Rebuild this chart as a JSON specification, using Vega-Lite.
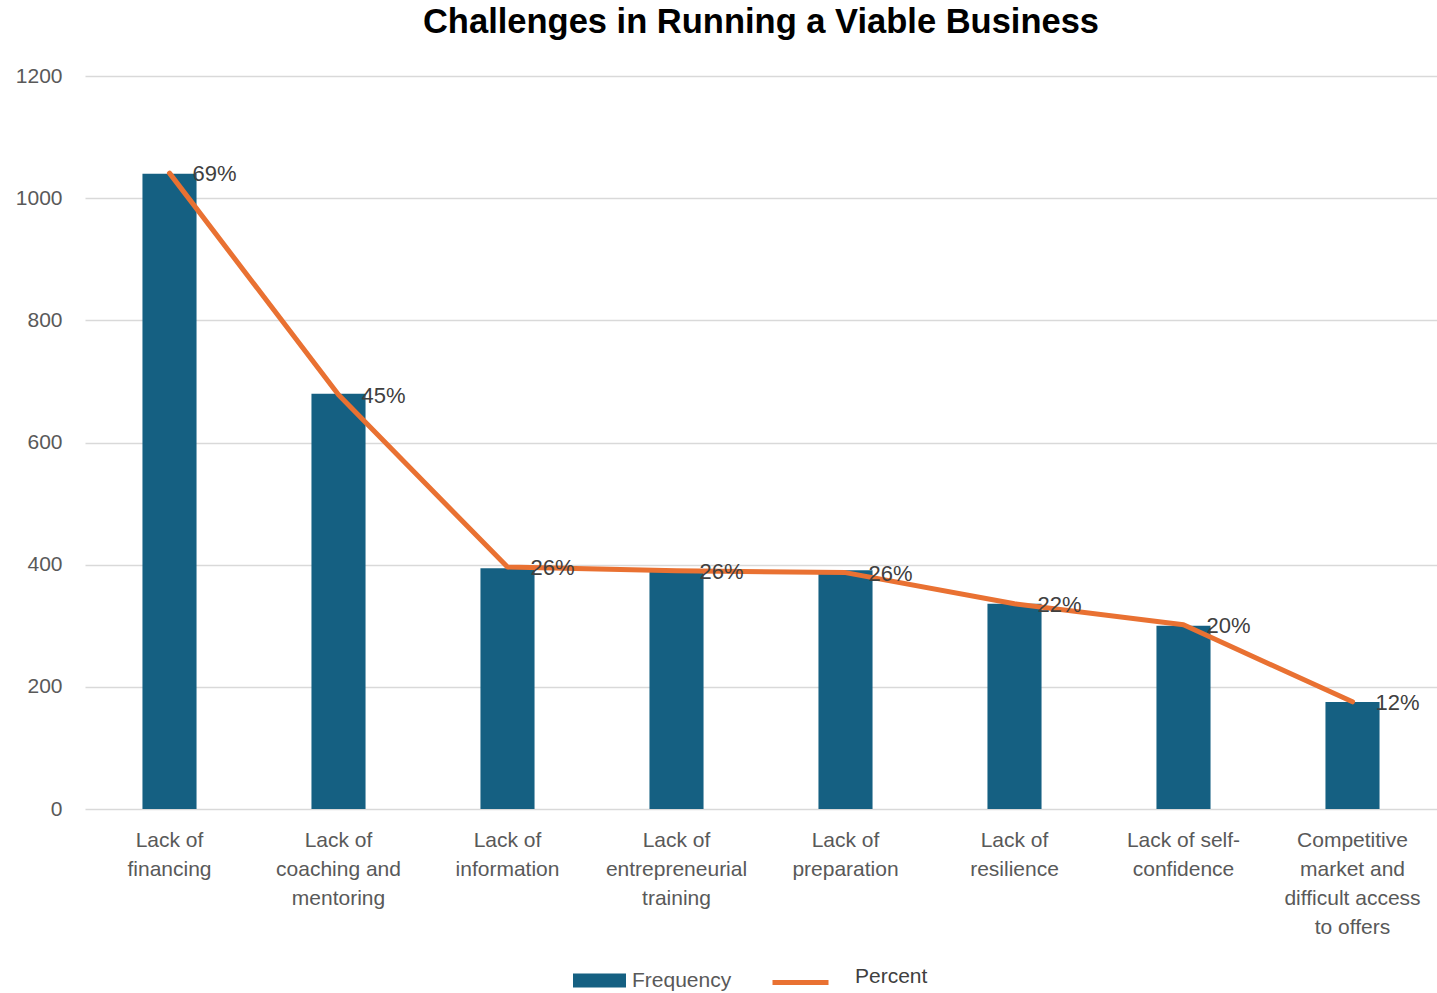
{
  "$schema": "https://vega.github.io/schema/vega-lite/v6.json",
  "width": 1352,
  "height": 733,
  "autosize": {"type": "none"},
  "padding": {"left": 85, "top": 76, "right": 0, "bottom": 184},
  "background": "white",
  "config": {
    "view": {"stroke": null},
    "font": "Liberation Sans"
  },
  "title": {
    "text": "Challenges in Running a Viable Business",
    "font": "Liberation Sans",
    "fontSize": 34.5,
    "fontWeight": "bold",
    "color": "#000000",
    "anchor": "middle",
    "baseline": "bottom",
    "offset": 28,
    "dy": 37
  },
  "data": {
    "values": [
      {"category": "Lack of financing", "frequency": 1040, "percent": 0.694},
      {"category": "Lack of coaching and mentoring", "frequency": 680, "percent": 0.452},
      {"category": "Lack of information", "frequency": 394, "percent": 0.264},
      {"category": "Lack of entrepreneurial training", "frequency": 388, "percent": 0.26},
      {"category": "Lack of preparation", "frequency": 391, "percent": 0.258},
      {"category": "Lack of resilience", "frequency": 336, "percent": 0.224},
      {"category": "Lack of self-confidence", "frequency": 300, "percent": 0.201},
      {"category": "Competitive market and difficult access to offers", "frequency": 175, "percent": 0.117}
    ]
  },
  "encoding": {
    "x": {
      "field": "category",
      "type": "nominal",
      "sort": null,
      "title": null,
      "scale": {"paddingInner": 0, "paddingOuter": 0},
      "axis": {
        "domain": false,
        "ticks": false,
        "grid": false,
        "labelAngle": 0,
        "labelFontSize": 21,
        "labelColor": "#595959",
        "labelLineHeight": 29,
        "labelPadding": 20,
        "labelBaseline": "top",
        "labelLimit": 300,
        "labelExpr": "datum.value == 'Lack of financing' ? ['Lack of','financing'] : datum.value == 'Lack of coaching and mentoring' ? ['Lack of','coaching and','mentoring'] : datum.value == 'Lack of information' ? ['Lack of','information'] : datum.value == 'Lack of entrepreneurial training' ? ['Lack of','entrepreneurial','training'] : datum.value == 'Lack of preparation' ? ['Lack of','preparation'] : datum.value == 'Lack of resilience' ? ['Lack of','resilience'] : datum.value == 'Lack of self-confidence' ? ['Lack of self-','confidence'] : ['Competitive','market and','difficult access','to offers']"
      }
    }
  },
  "layer": [
    {
      "mark": {"type": "bar", "width": {"band": 0.32}},
      "encoding": {
        "y": {
          "field": "frequency",
          "type": "quantitative",
          "title": null,
          "scale": {"domain": [0, 1200]},
          "axis": {
            "values": [0, 200, 400, 600, 800, 1000, 1200],
            "format": "d",
            "domain": false,
            "ticks": false,
            "grid": true,
            "gridColor": "#d9d9d9",
            "gridWidth": 1.3,
            "labelFontSize": 21,
            "labelColor": "#595959",
            "labelPadding": 23
          }
        },
        "fill": {
          "datum": "Frequency",
          "type": "nominal",
          "scale": {"domain": ["Frequency"], "range": ["#156082"]},
          "legend": {
            "title": null,
            "orient": "none",
            "legendX": 488,
            "legendY": 878,
            "symbolType": "M-1,-0.264H1V0.264H-1Z",
            "symbolSize": 2809,
            "symbolStrokeWidth": 0,
            "labelFontSize": 21,
            "labelColor": "#595959",
            "labelOffset": 6
          }
        }
      }
    },
    {
      "encoding": {
        "y": {
          "field": "percent",
          "type": "quantitative",
          "scale": {"domain": [0, 0.8]},
          "axis": null
        }
      },
      "layer": [
        {
          "mark": {"type": "line", "strokeWidth": 5, "strokeCap": "round", "strokeJoin": "round"},
          "encoding": {
            "stroke": {
              "datum": "Percent",
              "type": "nominal",
              "scale": {"domain": ["Percent"], "range": ["#E97132"]},
              "legend": {
                "title": null,
                "orient": "none",
                "legendX": 685,
                "legendY": 876,
                "symbolType": "M-1,0H1",
                "symbolSize": 3136,
                "symbolStrokeWidth": 5,
                "labelFontSize": 21,
                "labelColor": "#404040",
                "labelBaseline": "alphabetic",
                "labelOffset": 24
              }
            }
          }
        },
        {
          "mark": {"type": "text", "align": "left", "baseline": "middle", "dx": 23, "dy": 1, "fontSize": 22, "color": "#404040"},
          "encoding": {
            "text": {"field": "percent", "type": "quantitative", "format": ".0%"}
          }
        }
      ]
    }
  ],
  "resolve": {"scale": {"y": "independent"}}
}
